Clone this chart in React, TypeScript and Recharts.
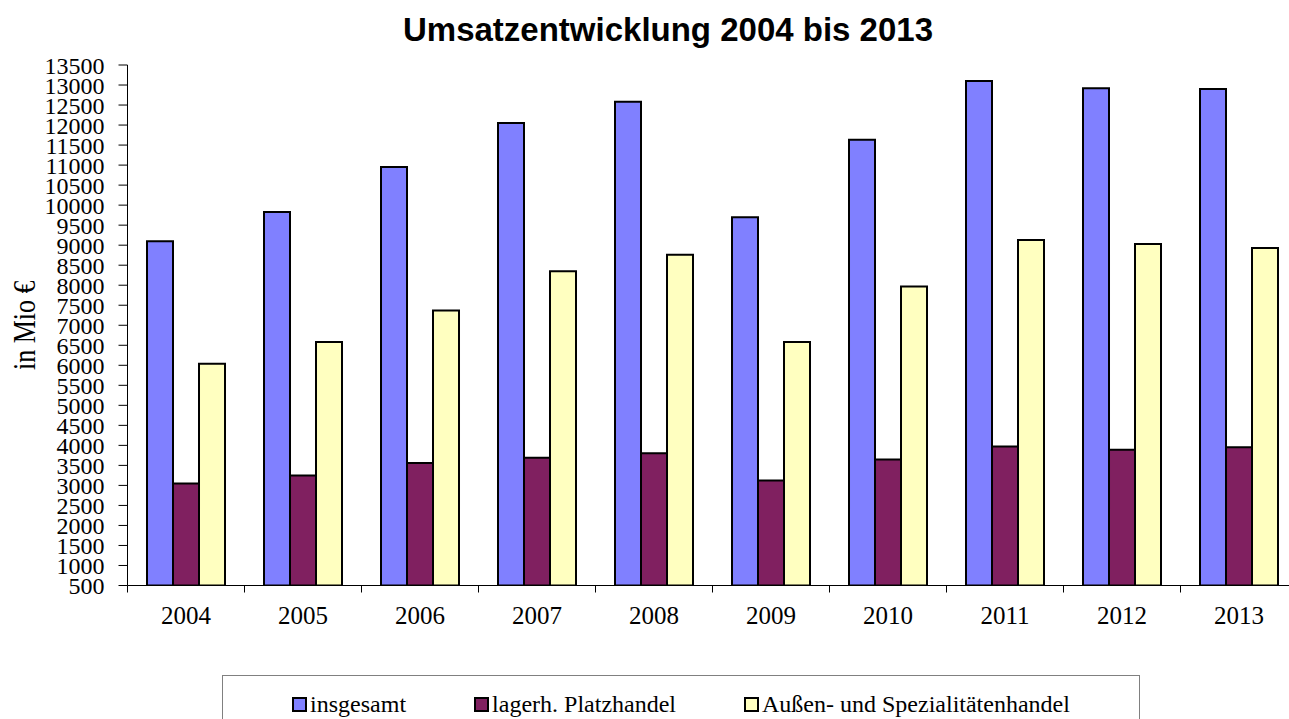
import React from 'react';
import { BarChart, Bar, XAxis, YAxis, Legend } from 'recharts';

// Umsatz in Mio €
const years = ['2004', '2005', '2006', '2007', '2008', '2009', '2010', '2011', '2012', '2013'];
const insgesamt = [9100, 9830, 10950, 12050, 12580, 9700, 11630, 13100, 12920, 12900];
const platzhandel = [3050, 3250, 3560, 3690, 3800, 3120, 3650, 3970, 3890, 3950];
const aussenhandel = [6040, 6580, 7370, 8350, 8760, 6580, 7970, 9130, 9030, 8930];
const yTicks = [
  500, 1000, 1500, 2000, 2500, 3000, 3500, 4000, 4500, 5000, 5500, 6000, 6500, 7000,
  7500, 8000, 8500, 9000, 9500, 10000, 10500, 11000, 11500, 12000, 12500, 13000, 13500,
];

const seriesNames = ['insgesamt', 'lagerh. Platzhandel', 'Außen- und Spezialitätenhandel'];
const seriesColors = ['#8080FF', '#802060', '#FFFFC0'];

const data = years.map((year, i) => ({
  year,
  insgesamt: insgesamt[i],
  platzhandel: platzhandel[i],
  aussen: aussenhandel[i],
}));

const CHART_W = 1310;
const CHART_H = 719;
const Y_AXIS_W = 127.5;
const MARGIN = { top: 65, right: 12.5, bottom: 0, left: 0 };
const PLOT_W = CHART_W - MARGIN.left - MARGIN.right - Y_AXIS_W;
const BAND = PLOT_W / years.length;

const serif = '"Liberation Serif", "Times New Roman", serif';

// x tick: label in the middle, tick mark on the left edge of the category
const YearTick: React.FC<any> = ({ x, y, payload }) => (
  <g>
    <line x1={x - BAND / 2} x2={x - BAND / 2} y1={y} y2={y + 7} stroke="#000" strokeWidth={1} />
    <text x={x} y={y + 38.5} textAnchor="middle" fontFamily={serif} fontSize={25} fill="#000">
      {payload.value}
    </text>
  </g>
);

// axis title, a bit stretched like the original
const YLabel: React.FC<any> = ({ viewBox }) => {
  const cy = viewBox.y + viewBox.height / 2;
  return (
    <text
      transform={`translate(35, ${cy}) rotate(-90) scale(1, 1.25)`}
      x={0}
      y={0}
      textAnchor="middle"
      fontFamily={serif}
      fontSize={26}
      fill="#000"
    >
      in Mio €
    </text>
  );
};

const LegendBox: React.FC = () => (
  <div
    style={{
      border: '1px solid #808080',
      height: 60,
      boxSizing: 'border-box',
      display: 'flex',
      justifyContent: 'center',
      alignItems: 'flex-start',
      gap: 68,
      paddingTop: 15,
      fontFamily: serif,
      fontSize: 24,
      color: '#000',
    }}
  >
    {seriesNames.map((name, i) => (
      <span key={name} style={{ display: 'flex', alignItems: 'center', lineHeight: '26px' }}>
        <span
          style={{
            width: 11,
            height: 11,
            background: seriesColors[i],
            border: '2px solid #000',
            marginRight: 3,
            display: 'inline-block',
          }}
        />
        {name}
      </span>
    ))}
  </div>
);

export default function App() {
  return (
    <div
      style={{
        position: 'absolute',
        left: 0,
        top: 0,
        width: 1289,
        height: 719,
        overflow: 'hidden',
        background: '#fff',
      }}
    >
      <div
        style={{
          position: 'absolute',
          left: 0,
          top: 12,
          width: 1336,
          textAlign: 'center',
          fontFamily: '"Liberation Sans", Arial, sans-serif',
          fontWeight: 'bold',
          fontSize: 33,
          lineHeight: '36px',
          color: '#000',
        }}
      >
        Umsatzentwicklung 2004 bis 2013
      </div>
      <BarChart
        width={CHART_W}
        height={CHART_H}
        data={data}
        margin={MARGIN}
        barCategoryGap="16.67%"
        barGap={0}
      >
        <XAxis
          dataKey="year"
          height={133.5}
          tickSize={0}
          tickMargin={0}
          tickLine={false}
          axisLine={{ stroke: '#000', strokeWidth: 1 }}
          tick={<YearTick />}
          interval={0}
        />
        <YAxis
          width={Y_AXIS_W}
          domain={[500, 13500]}
          ticks={yTicks}
          interval={0}
          allowDataOverflow
          tickSize={9}
          tickMargin={14}
          axisLine={{ stroke: '#000', strokeWidth: 1 }}
          tickLine={{ stroke: '#000', strokeWidth: 1 }}
          tick={{ fontFamily: serif, fontSize: 24, fill: '#000' }}
          label={<YLabel />}
        />
        <Legend
          verticalAlign="middle"
          align="center"
          layout="horizontal"
          width={918}
          wrapperStyle={{ left: 222, top: 675, width: 918 }}
          content={<LegendBox />}
        />
        <Bar dataKey="insgesamt" name={seriesNames[0]} fill={seriesColors[0]} stroke="#000" strokeWidth={2} isAnimationActive={false} />
        <Bar dataKey="platzhandel" name={seriesNames[1]} fill={seriesColors[1]} stroke="#000" strokeWidth={2} isAnimationActive={false} />
        <Bar dataKey="aussen" name={seriesNames[2]} fill={seriesColors[2]} stroke="#000" strokeWidth={2} isAnimationActive={false} />
      </BarChart>
    </div>
  );
}
